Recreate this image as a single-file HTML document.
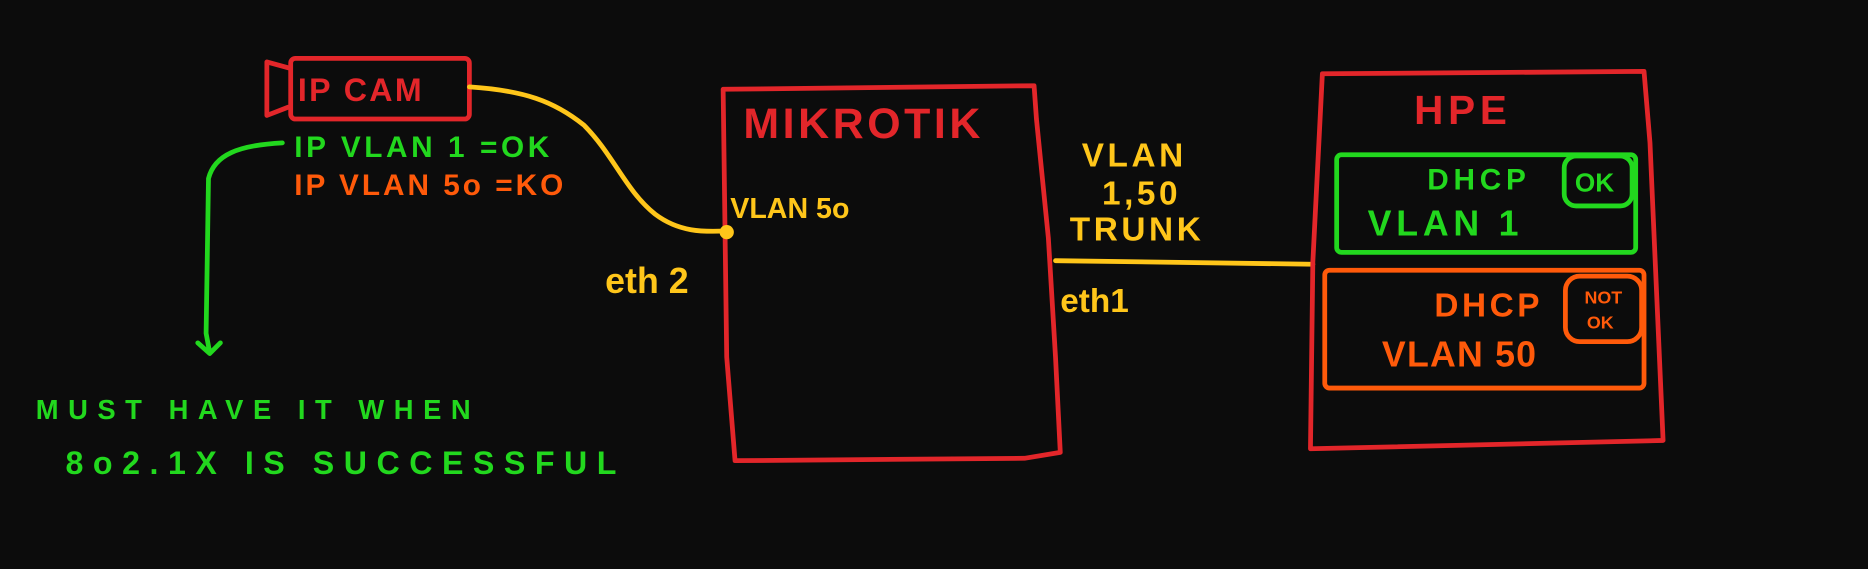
<!DOCTYPE html>
<html><head><style>
html,body{margin:0;padding:0;background:#0c0c0c;width:1868px;height:569px;overflow:hidden}
svg{display:block}
text{font-family:"Liberation Sans",sans-serif;font-weight:bold}
</style></head><body>
<svg width="1868" height="569" viewBox="0 0 1568 478" preserveAspectRatio="none" xmlns="http://www.w3.org/2000/svg">
<rect width="1568" height="478" fill="#0c0c0c"/>
<g fill="none" stroke-linecap="round" stroke-linejoin="round">
<rect x="244" y="49" width="150" height="51" rx="4" stroke="#e3262a" stroke-width="4"/>
<path d="M242,57 L224,52 L224,97 L242,90" stroke="#e3262a" stroke-width="4"/>
<path d="M394,73 C440,76 465,85 490,105 C515,130 525,160 550,180 C570,195 590,195 610,194" stroke="#ffc61a" stroke-width="4"/>
<path d="M237,120 C200,122 180,130 175,150 L173,280 L176,296 M166,288 L176,297 L185,288" stroke="#22d81e" stroke-width="4"/>
<path d="M607,75 L868,72 L870,100 L880,200 L886,300 L890,380 L860,385 L617,387 L610,300 L607,75Z" stroke="#e3262a" stroke-width="4"/>
<path d="M886,219 L1102,222" stroke="#ffc61a" stroke-width="4"/>
<path d="M1110,62 L1380,60 L1385,120 L1396,370 L1100,377 L1102,220 L1110,62Z" stroke="#e3262a" stroke-width="4"/>
<rect x="1122" y="130" width="251" height="82" rx="4" stroke="#22d81e" stroke-width="4"/>
<rect x="1313" y="131" width="57" height="42" rx="10" stroke="#22d81e" stroke-width="4"/>
<rect x="1112" y="227" width="268" height="99" rx="4" stroke="#ff5a0a" stroke-width="4"/>
<rect x="1314" y="232" width="64" height="55" rx="12" stroke="#ff5a0a" stroke-width="4"/>
</g>
<circle cx="610" cy="195" r="6" fill="#ffc61a"/>
<text x="250" y="85" fill="#e3262a" font-size="27" letter-spacing="2">IP CAM</text>
<text x="247" y="132" fill="#22d81e" font-size="25" letter-spacing="3">IP VLAN 1 =OK</text>
<text x="247" y="164" fill="#ff5a0a" font-size="25" letter-spacing="2.5">IP VLAN 5o =KO</text>
<text x="30" y="352" fill="#22d81e" font-size="23" letter-spacing="8">MUST HAVE IT WHEN</text>
<text x="55" y="398" fill="#22d81e" font-size="27" letter-spacing="8">8o2.1X IS SUCCESSFUL</text>
<text x="624" y="116" fill="#e3262a" font-size="36" letter-spacing="3">MIKROTIK</text>
<text x="613" y="183" fill="#ffc61a" font-size="24">VLAN 5o</text>
<text x="508" y="246" fill="#ffc61a" font-size="30">eth 2</text>
<text x="908" y="140" fill="#ffc61a" font-size="28" letter-spacing="3">VLAN</text>
<text x="925" y="172" fill="#ffc61a" font-size="28" letter-spacing="3">1,50</text>
<text x="898" y="202" fill="#ffc61a" font-size="28" letter-spacing="3">TRUNK</text>
<text x="890" y="262" fill="#ffc61a" font-size="28">eth1</text>
<text x="1187" y="104" fill="#e3262a" font-size="34" letter-spacing="4">HPE</text>
<text x="1198" y="159" fill="#22d81e" font-size="25" letter-spacing="4">DHCP</text>
<text x="1322" y="161" fill="#22d81e" font-size="22">OK</text>
<text x="1148" y="198" fill="#22d81e" font-size="30" letter-spacing="4">VLAN 1</text>
<text x="1204" y="266" fill="#ff5a0a" font-size="28" letter-spacing="3">DHCP</text>
<text x="1330" y="255" fill="#ff5a0a" font-size="15">NOT</text>
<text x="1332" y="276" fill="#ff5a0a" font-size="15">OK</text>
<text x="1160" y="308" fill="#ff5a0a" font-size="30" letter-spacing="1">VLAN 50</text>
</svg>
</body></html>
